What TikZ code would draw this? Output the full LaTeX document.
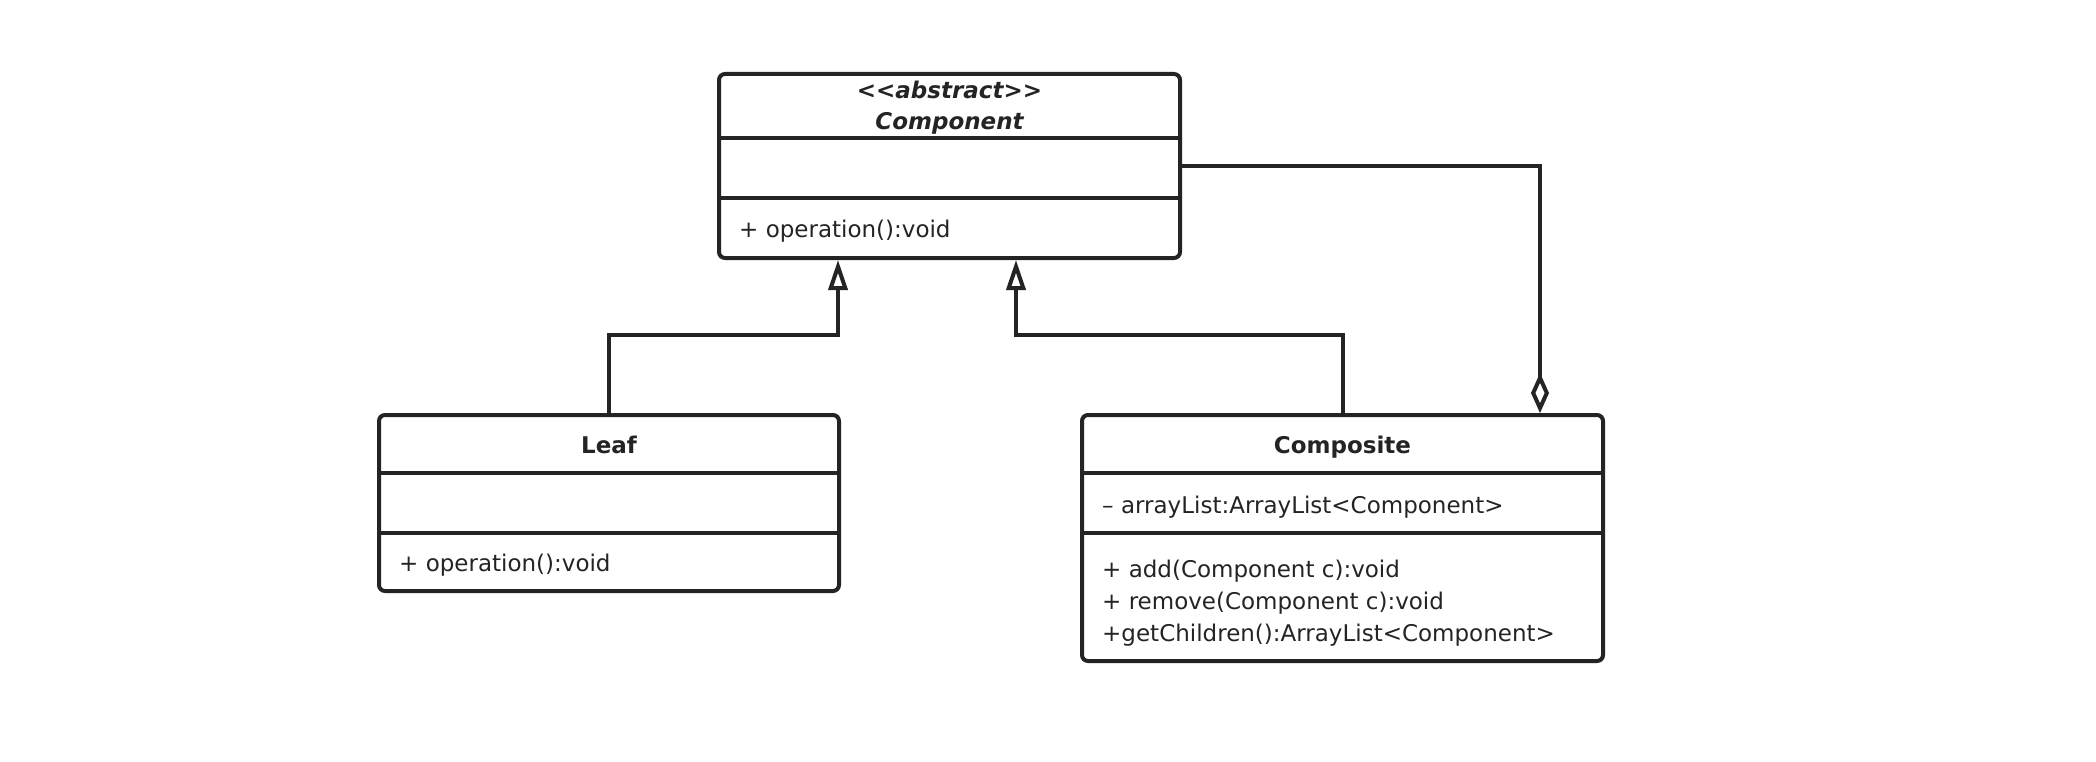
\documentclass[tikz,border=0pt]{standalone}
\usepackage{fontspec}
\setmainfont{DejaVu Sans}
\usetikzlibrary{arrows.meta, positioning, fit, backgrounds}
\definecolor{umlline}{RGB}{36,36,36}
\tikzset{
    umlfont/.style={font=\fontsize{23}{32}\selectfont},
    part/.style={rectangle, inner sep=0pt, outer sep=0pt},
    titletext/.style={inner sep=0pt, anchor=base, text=umlline, umlfont, font=\fontsize{23}{32}\selectfont\bfseries},
    membertext/.style={inner sep=0pt, anchor=base west, text=umlline, umlfont},
    classbox/.style={draw=umlline, line width=4pt, rounded corners=6pt, inner sep=0pt},
    divider/.style={draw=umlline, line width=4pt},
    inherit/.style={draw=umlline, line width=4pt, -{Triangle[open, length=30pt, width=19pt]}},
    aggregate/.style={draw=umlline, line width=4pt, -{Diamond[open, length=40pt, width=18pt]}}
}
\begin{document}
\begin{tikzpicture}[x=1pt, y=1pt]

% Canvas
\fill[white] (0,0) rectangle (2096,-762);
\useasboundingbox (0,0) rectangle (2096,-762);

% Abstract class
\node[part, minimum width=461pt, minimum height=64pt] (compHead) at (949.5,-106) {};
\node[part, minimum width=461pt, minimum height=60pt, below=0pt of compHead] (compAttr) {};
\node[part, minimum width=461pt, minimum height=60pt, below=0pt of compAttr] (compOps) {};
\node[classbox, fit=(compHead) (compOps)] (component) {};
\node[titletext] (compStereo) at ([yshift=7.5pt]compHead.center) {\itshape <\kern0pt<abstract>\kern0pt>};
\node[titletext] (compName) at ([yshift=-24pt]compHead.center) {\itshape Component};
\node[membertext] (compOp) at ([xshift=20pt, yshift=-9.5pt]compOps.west) {+ operation():void};

% Leaf class
\node[part, minimum width=460pt, minimum height=58pt] (leafHead) at (609,-444) {};
\node[part, minimum width=460pt, minimum height=60pt, below=0pt of leafHead] (leafAttr) {};
\node[part, minimum width=460pt, minimum height=58pt, below=0pt of leafAttr] (leafOps) {};
\node[classbox, fit=(leafHead) (leafOps)] (leaf) {};
\node[titletext] (leafName) at ([yshift=-9.5pt]leafHead.center) {Leaf};
\node[membertext] (leafOp) at ([xshift=20pt, yshift=-9.5pt]leafOps.west) {+ operation():void};

% Composite class
\node[part, minimum width=521pt, minimum height=58pt] (compositeHead) at (1342.5,-444) {};
\node[part, minimum width=521pt, minimum height=60pt, below=0pt of compositeHead] (compositeAttr) {};
\node[part, minimum width=521pt, minimum height=128pt, below=0pt of compositeAttr] (compositeOps) {};
\node[classbox, fit=(compositeHead) (compositeOps)] (composite) {};
\node[titletext] (compositeName) at ([yshift=-9.5pt]compositeHead.center) {Composite};
\node[membertext] (compositeField) at ([xshift=20pt, yshift=-10.5pt]compositeAttr.west) {– arrayList:ArrayList<Component>};
\foreach \op [count=\i, evaluate=\i as \dy using {20-32*(\i-1)}] in
    {+ add(Component c):void, + remove(Component c):void, +getChildren():ArrayList<Component>}
    \node[membertext] (compositeOp\i) at ([xshift=20pt, yshift=\dy pt]compositeOps.west) {\op};

% Compartment lines
\foreach \cls in {comp, leaf, composite} {
    \draw[divider] (\cls Head.south west) -- (\cls Head.south east);
    \draw[divider] (\cls Attr.south west) -- (\cls Attr.south east);
}

% Connections
\coordinate (leafJoin) at (838,-335);
\coordinate (compositeJoin) at (1016,-335);
\coordinate (aggJoin) at (1540,-166);
\draw[inherit] (leaf.north) |- (leafJoin) -- (leafJoin |- component.south);
\draw[inherit] (composite.north) |- (compositeJoin) -- (compositeJoin |- component.south);
\draw[aggregate] (component.east |- aggJoin) -- (aggJoin) -- (aggJoin |- composite.north);

\end{tikzpicture}
\end{document}
